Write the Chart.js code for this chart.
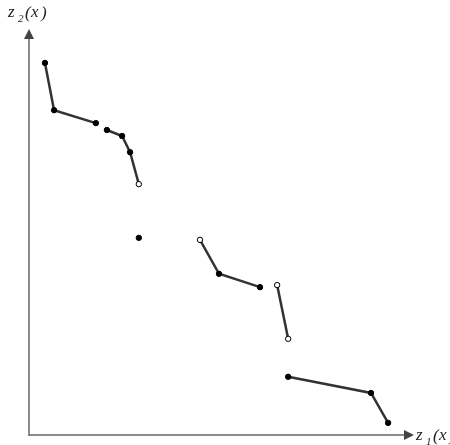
<!DOCTYPE html>
<html>
<head>
<meta charset="utf-8">
<script src="https://cdn.jsdelivr.net/npm/chart.js@4.4.0/dist/chart.umd.min.js"></script>
<style>
  html, body { margin: 0; padding: 0; background: #fff; }
  #wrap { width: 450px; height: 445px; position: relative; }
</style>
</head>
<body>
<div id="wrap"><canvas id="chart" width="450" height="445"></canvas></div>
<script>
// pieces of the curve, each one a connected segment: [z1, z2]
const segment1 = [[0.42, 9.21], [0.66, 8.04], [1.76, 7.72]];
const segment2 = [[2.05, 7.55], [2.45, 7.40], [2.66, 7.00], [2.89, 6.21]];
const isolated = [[2.89, 4.88]];
const segment3 = [[4.50, 4.83], [5.00, 3.99], [6.08, 3.66]];
const segment4 = [[6.53, 3.71], [6.82, 2.38]];
const segment5 = [[6.82, 1.44], [9.00, 1.04], [9.45, 0.30]];

// which endpoints are open (not included)
const open1 = [false, false, false];
const open2 = [false, false, false, true];
const openIso = [false];
const open3 = [true, false, false];
const open4 = [true, true];
const open5 = [false, false, false];

const xLabel = ['z', '1'];
const yLabel = ['z', '2'];

const lineColor = '#333';

function makeSet(points, openFlags) {
    return {
        data: points.map(p => ({ x: p[0], y: p[1] })),
        showLine: true,
        borderColor: lineColor,
        borderWidth: 2.5,
        pointRadius: 2.7,
        pointBorderWidth: 1,
        pointBorderColor: '#000',
        pointBackgroundColor: openFlags.map(o => o ? '#fff' : '#000')
    };
}

// italic "z_n(x)" with loose spacing
function drawLabel(ctx, label, x, y) {
    const big = 'italic 17px "Liberation Serif"';
    const small = 'italic 11px "Liberation Serif"';
    ctx.font = big;
    ctx.fillText(label[0], x, y);
    ctx.font = small;
    ctx.fillText(label[1], x + 10, y + 5);
    ctx.font = big;
    ctx.fillText('(', x + 17, y + 1);
    ctx.fillText('x', x + 23, y);
    ctx.fillText(')', x + 33, y + 1);
}

// draw the two axes with arrow heads and their labels
const axesPlugin = {
    id: 'axes',
    beforeDatasetsDraw(chart) {
        const { ctx, chartArea } = chart;
        const x0 = chartArea.left;
        const y0 = chartArea.bottom;
        ctx.save();
        ctx.strokeStyle = '#666';
        ctx.fillStyle = '#444';
        ctx.lineWidth = 1.5;

        // y axis
        ctx.beginPath();
        ctx.moveTo(x0, y0 + 1);
        ctx.lineTo(x0, 36);
        ctx.stroke();
        ctx.beginPath();
        ctx.moveTo(x0, 29);
        ctx.lineTo(x0 - 5, 39);
        ctx.lineTo(x0 + 5, 39);
        ctx.closePath();
        ctx.fill();

        // x axis
        ctx.beginPath();
        ctx.moveTo(x0, y0);
        ctx.lineTo(406, y0);
        ctx.stroke();
        ctx.beginPath();
        ctx.moveTo(414, y0);
        ctx.lineTo(404, y0 - 5);
        ctx.lineTo(404, y0 + 5);
        ctx.closePath();
        ctx.fill();

        // labels
        ctx.fillStyle = '#222';
        ctx.textBaseline = 'alphabetic';
        drawLabel(ctx, yLabel, 8, 17);
        drawLabel(ctx, xLabel, 416, 440);
        ctx.restore();
    }
};

new Chart(document.getElementById('chart'), {
    type: 'scatter',
    data: {
        datasets: [
            makeSet(segment1, open1),
            makeSet(segment2, open2),
            makeSet(isolated, openIso),
            makeSet(segment3, open3),
            makeSet(segment4, open4),
            makeSet(segment5, open5)
        ]
    },
    options: {
        responsive: false,
        animation: false,
        clip: false,
        layout: { padding: { left: 29, right: 41, top: 31, bottom: 10 } },
        plugins: { legend: { display: false }, tooltip: { enabled: false } },
        scales: {
            x: { type: 'linear', min: 0, max: 10, display: false },
            y: { type: 'linear', min: 0, max: 10, display: false }
        }
    },
    plugins: [axesPlugin]
});
</script>
</body>
</html>
